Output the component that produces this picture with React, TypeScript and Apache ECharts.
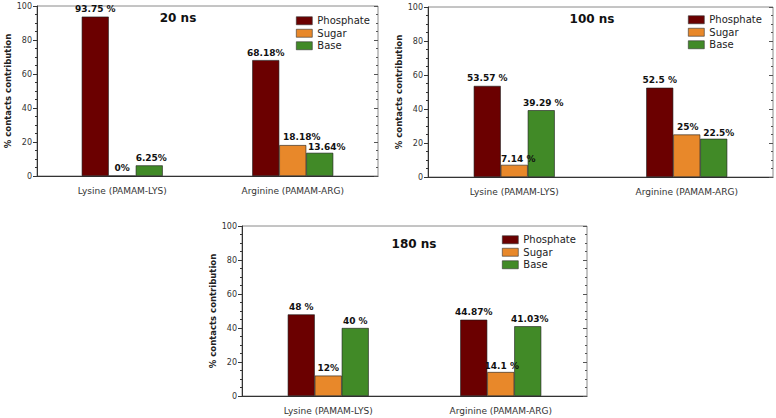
import React, { useEffect, useRef } from "react";
import * as echarts from "echarts";

const categories = ["Lysine (PAMAM-LYS)", "Arginine (PAMAM-ARG)"];
const seriesNames = ["Phosphate", "Sugar", "Base"];
const panelTitles = ["20 ns", "100 ns", "180 ns"];

const phosphate20 = [93.75, 68.18];
const sugar20 = [0, 18.18];
const base20 = [6.25, 13.64];
const phosphate20Labels = ["93.75 %", "68.18%"];
const sugar20Labels = ["0%", "18.18%"];
const base20Labels = ["6.25%", "13.64%"];

const phosphate100 = [53.57, 52.5];
const sugar100 = [7.14, 25];
const base100 = [39.29, 22.5];
const phosphate100Labels = ["53.57 %", "52.5 %"];
const sugar100Labels = ["7.14 %", "25%"];
const base100Labels = ["39.29 %", "22.5%"];

const phosphate180 = [48, 44.87];
const sugar180 = [12, 14.1];
const base180 = [40, 41.03];
const phosphate180Labels = ["48 %", "44.87%"];
const sugar180Labels = ["12%", "14.1 %"];
const base180Labels = ["40 %", "41.03%"];

const yTicks = { min: 0, max: 100, interval: 20 };

const FONT = "DejaVu Sans";
const COLORS = ["#6b0000", "#e8882a", "#418a27"];

const panelData = [
  { values: [phosphate20, sugar20, base20], labels: [phosphate20Labels, sugar20Labels, base20Labels] },
  { values: [phosphate100, sugar100, base100], labels: [phosphate100Labels, sugar100Labels, base100Labels] },
  { values: [phosphate180, sugar180, base180], labels: [phosphate180Labels, sugar180Labels, base180Labels] },
];

// label nudges [panel][series][category] in px
const labelNudges = [
  [[[0, 0], [0, 0]], [[0, 0], [9, -1]], [[2, 0], [7, 2]]],
  [[[0, 0], [0, 0]], [[4, 2], [1, 0]], [[2, 0], [5, 2]]],
  [[[0, 0], [0, 0]], [[0, 0], [1, 1]], [[0, 0], [2, 0]]],
];

const layout = [
  { left: 37, top: 6, width: 341, height: 170, titleX: 178, titleY: 18, legendX: 296, legendY: 15 },
  { left: 428, top: 7, width: 345, height: 170, titleX: 592, titleY: 19, legendX: 688, legendY: 14 },
  { left: 242, top: 226, width: 345, height: 170, titleX: 414, titleY: 244, legendX: 502, legendY: 234 },
];

export default function App() {
  const ref = useRef<HTMLDivElement>(null);
  useEffect(() => {
    document.body.style.margin = "0";
    if (!ref.current) return;
    const chart = echarts.init(ref.current, undefined, { renderer: "svg" });
    const grid: any[] = [];
    const xAxis: any[] = [];
    const yAxis: any[] = [];
    const series: any[] = [];
    const legend: any[] = [];
    const graphic: any[] = [];
    layout.forEach((L, g) => {
      grid.push({
        left: L.left, top: L.top, width: L.width, height: L.height,
        show: true, borderColor: "#8a8a8a", borderWidth: 1, backgroundColor: "transparent",
      });
      xAxis.push({
        type: "category", gridIndex: g, data: categories,
        axisLine: { lineStyle: { color: "#333", width: 1 } },
        axisTick: { alignWithLabel: true, length: 4, lineStyle: { color: "#333" } },
        axisLabel: { fontFamily: FONT, fontSize: 9, color: "#333", margin: 10 },
        splitLine: { show: false },
      });
      yAxis.push({
        type: "value", gridIndex: g, position: "left", ...yTicks,
        name: "% contacts contribution", nameLocation: "middle", nameGap: 25,
        nameTextStyle: { fontFamily: FONT, fontSize: 8.5, fontWeight: "bold", color: "#222" },
        axisLine: { show: true, lineStyle: { color: "#333" } },
        axisTick: { show: true, length: 4, lineStyle: { color: "#333" } },
        minorTick: { show: true, splitNumber: 4, length: 2, lineStyle: { color: "#333" } },
        axisLabel: { fontFamily: FONT, fontSize: 8, color: "#333", margin: 5 },
        splitLine: { show: false },
        minorSplitLine: { show: false },
      });
      yAxis.push({
        type: "value", gridIndex: g, position: "right", ...yTicks,
        axisLine: { show: false },
        axisTick: { show: true, inside: true, length: 4, lineStyle: { color: "#555" } },
        minorTick: { show: true, splitNumber: 4, length: 2, lineStyle: { color: "#555" } },
        axisLabel: { show: false },
        splitLine: { show: false },
        minorSplitLine: { show: false },
      });
      const pd = panelData[g];
      seriesNames.forEach((name, s) => {
        const labs = pd.labels[s];
        const nudges = labelNudges[g][s];
        series.push({
          type: "bar", name, xAxisIndex: g, yAxisIndex: 2 * g,
          data: pd.values[s].map((v, i) => ({
            value: v,
            label: { offset: nudges[i] },
          })),
          barWidth: 27, barGap: "0%",
          itemStyle: { color: COLORS[s], borderColor: "#1a1a1a", borderWidth: 0.6 },
          label: {
            show: true, position: "top", distance: 3,
            fontFamily: FONT, fontSize: 9, fontWeight: "bold", color: "#111",
            formatter: (p: any) => labs[p.dataIndex],
          },
        });
      });
      legend.push({
        orient: "vertical", left: L.legendX, top: L.legendY,
        data: seriesNames, icon: "rect", itemWidth: 16, itemHeight: 8, itemGap: 1,
        selectedMode: false,
        itemStyle: { borderColor: "#333", borderWidth: 0.6 },
        textStyle: { fontFamily: FONT, fontSize: 10, lineHeight: 11.5, color: "#222" },
        padding: 0,
      });
      graphic.push({
        type: "text", x: L.titleX, y: L.titleY,
        style: {
          text: panelTitles[g], font: `bold 12px "${FONT}"`, fill: "#111",
          textAlign: "center", textVerticalAlign: "middle",
        },
      });
    });
    chart.setOption({
      animation: false,
      backgroundColor: "#ffffff",
      grid, xAxis, yAxis, series, legend, graphic,
    });
    return () => chart.dispose();
  }, []);
  return <div ref={ref} style={{ width: 776, height: 418 }} />;
}
